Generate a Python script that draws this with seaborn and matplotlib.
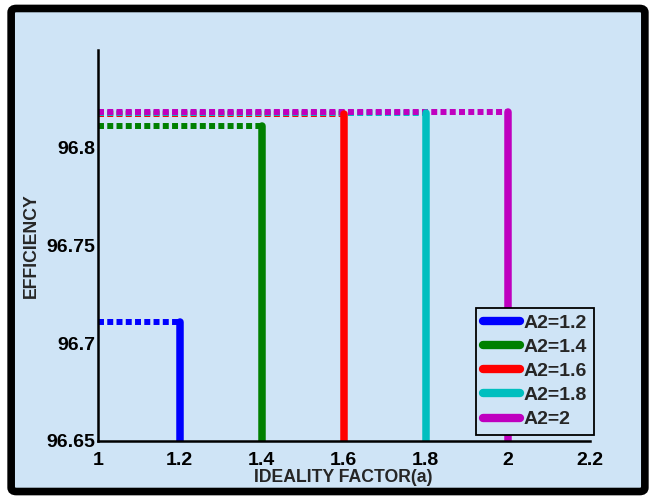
import numpy as np
import pandas as pd
import matplotlib
matplotlib.use('Agg')
import matplotlib.pyplot as plt
import seaborn as sns
from matplotlib.patches import FancyBboxPatch

# data
a2_values = [1.2, 1.4, 1.6, 1.8, 2.0]
a2_labels = ['A2=1.2', 'A2=1.4', 'A2=1.6', 'A2=1.8', 'A2=2']
efficiency = [96.711, 96.811, 96.8172, 96.8179, 96.8184]
colors = ['#0000ff', '#008000', '#ff0000', '#00bfbf', '#bf00bf']
x_start = 1.0
y_floor = 96.65
x_ticks = [1, 1.2, 1.4, 1.6, 1.8, 2, 2.2]
x_ticklabels = ['1', '1.2', '1.4', '1.6', '1.8', '2', '2.2']
y_ticks = [96.65, 96.7, 96.75, 96.8]
y_ticklabels = ['96.65', '96.7', '96.75', '96.8']

bg = '#cfe4f6'
sns.set_style('white')
plt.rcParams['font.family'] = ['Liberation Sans', 'DejaVu Sans']
plt.rcParams['font.weight'] = 'bold'

fig = plt.figure(figsize=(6.56, 4.98), dpi=100, facecolor='white')
frame = FancyBboxPatch((0.017, 0.013), 0.966, 0.97, boxstyle='round,pad=0,rounding_size=0.008',
                       transform=fig.transFigure, facecolor=bg, edgecolor='black', lw=5.5, zorder=-5)
fig.patches.append(frame)

ax = fig.add_axes([0.149, 0.1145, 0.75, 0.785])
ax.set_facecolor(bg)
ax.patch.set_alpha(0)

rows_h = []
rows_v = []
for lab, xv, yv in zip(a2_labels, a2_values, efficiency):
    rows_h += [(lab, x_start, yv), (lab, xv, yv)]
    rows_v += [(lab, xv, yv), (lab, xv, y_floor)]
dh = pd.DataFrame(rows_h, columns=['series', 'a', 'eff'])
dv = pd.DataFrame(rows_v, columns=['series', 'a', 'eff'])
pal = dict(zip(a2_labels, colors))

# dotted part: from a=1 to A2 at the efficiency level
sns.lineplot(data=dh, x='a', y='eff', hue='series', palette=pal, estimator=None,
             sort=False, units='series', lw=4.3, ax=ax, legend=False)
for ln in ax.get_lines():
    ln.set_dashes((1, 0.55))
    ln.set_dash_capstyle('butt')
# solid drop down to the floor
sns.lineplot(data=dv, x='a', y='eff', hue='series', palette=pal, estimator=None,
             sort=False, units='series', lw=5.4, ax=ax, legend=False)

ax.set_xlim(1, 2.2)
ax.set_ylim(96.65, 96.85)
ax.set_xticks(x_ticks)
ax.set_xticklabels(x_ticklabels, fontsize=14, fontweight='bold')
ax.set_yticks(y_ticks)
ax.set_yticklabels(y_ticklabels, fontsize=14, fontweight='bold')
ax.tick_params(direction='in', length=4, width=1.5, colors='black')
ax.tick_params(axis='x', pad=8)
ax.tick_params(axis='y', pad=2)
for s in ['top', 'right']:
    ax.spines[s].set_visible(False)
for s in ['left', 'bottom']:
    ax.spines[s].set_linewidth(1.8)
    ax.spines[s].set_color('black')

ax.set_xlabel('IDEALITY FACTOR(a)', fontsize=12.7, fontweight='bold', labelpad=0)
ax.set_ylabel('EFFICIENCY', fontsize=12.7, fontweight='bold')
ax.yaxis.set_label_coords(-0.118, 0.5)

handles = [plt.Line2D([], [], color=c, lw=6) for c in colors]
leg = ax.legend(handles, a2_labels, loc='lower right', bbox_to_anchor=(1.016, 0.005),
                prop={'weight': 'bold', 'size': 14}, frameon=True, fancybox=False,
                handlelength=1.9, handletextpad=0.2, labelspacing=0.33, borderpad=0.35,
                borderaxespad=0.2)
leg.get_frame().set_facecolor(bg)
leg.get_frame().set_edgecolor('black')
leg.get_frame().set_linewidth(1.3)
leg.get_frame().set_alpha(1)

fig.savefig('out.png', dpi=100, facecolor='white')
